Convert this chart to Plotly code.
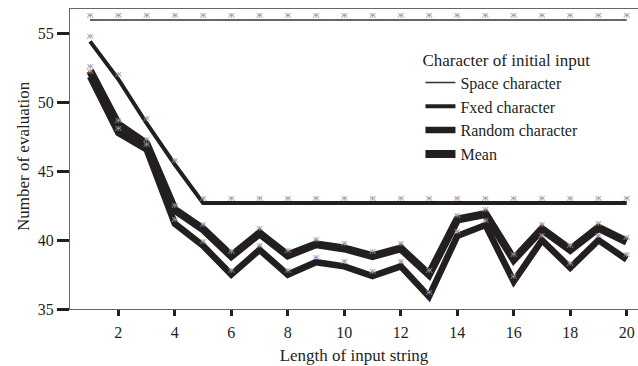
import plotly.graph_objects as go

lengths = list(range(1, 21))
space_char = [56.0] * 20
fixed_char = [54.45, 51.7, 48.5, 45.5, 42.7, 42.7, 42.7, 42.7, 42.7, 42.7,
              42.7, 42.7, 42.7, 42.7, 42.7, 42.7, 42.7, 42.7, 42.7, 42.7]
random_char = [51.9, 47.8, 46.6, 41.2, 39.6, 37.5, 39.3, 37.5, 38.4, 38.1,
               37.4, 38.1, 35.9, 40.3, 41.1, 37.0, 40.0, 38.0, 40.0, 38.6]
mean_vals = [52.3, 48.4, 47.0, 42.2, 40.8, 38.85, 40.5, 38.9, 39.7, 39.4,
             38.85, 39.4, 37.5, 41.5, 41.9, 38.6, 40.8, 39.3, 40.9, 39.9]
x_ticks = list(range(2, 21, 2))
y_ticks = [35, 40, 45, 50, 55]

series = [
    ("Space character", space_char, 1.5, "#333333"),
    ("Fxed character", fixed_char, 4, "#231f20"),
    ("Random character", random_char, 6.5, "#231f20"),
    ("Mean", mean_vals, 8, "#231f20"),
]

FONT = "Liberation Serif"
fig = go.Figure()
for name, vals, w, col in series:
    fig.add_trace(go.Scatter(x=lengths, y=vals, mode="lines", name=name,
                             line=dict(color=col, width=w)))
for name, vals, w, col in series:
    fig.add_trace(go.Scatter(x=lengths, y=vals, mode="text", text=["ж"] * len(vals),
                             textposition="top center", showlegend=False, hoverinfo="skip",
                             textfont=dict(family="DejaVu Sans", size=8, color="#999999")))

fig.update_layout(
    width=638, height=366,
    margin=dict(l=70, r=0, t=9, b=57),
    plot_bgcolor="white", paper_bgcolor="white",
    font=dict(family=FONT, size=16, color="#231f20"),
    showlegend=True,
    legend=dict(
        title=dict(text="Character of initial input", font=dict(family=FONT, size=17)),
        x=0.617, y=0.885, xanchor="left", yanchor="top",
        bgcolor="rgba(0,0,0,0)", font=dict(family=FONT, size=16),
        itemwidth=30, tracegroupgap=0,
    ),
    xaxis=dict(range=[0.29, 20.4], tickmode="array", tickvals=x_ticks,
               showgrid=False, zeroline=False, showline=True, linecolor="#666666", linewidth=1,
               mirror=True, ticks="outside", ticklen=6, tickwidth=3, tickcolor="#231f20",
               tickfont=dict(family=FONT, size=16), ticklabelstandoff=3,
               title=dict(text="Length of input string", font=dict(family=FONT, size=17), standoff=8)),
    yaxis=dict(range=[35, 56.8], tickmode="array", tickvals=y_ticks,
               showgrid=False, zeroline=False, showline=True, linecolor="#666666", linewidth=1,
               mirror=True, ticks="outside", ticklen=12, tickwidth=3, tickcolor="#231f20",
               tickfont=dict(family=FONT, size=16)),
    annotations=[dict(text="Number of evaluation", textangle=-90, xref="paper", yref="paper",
                      x=-0.0827, y=0.51, xanchor="center", yanchor="middle", showarrow=False,
                      font=dict(family=FONT, size=17))],
)

fig.write_html("out.html", config={"displayModeBar": False},
               post_script="document.body.style.margin='0';document.body.style.overflow='hidden';")
